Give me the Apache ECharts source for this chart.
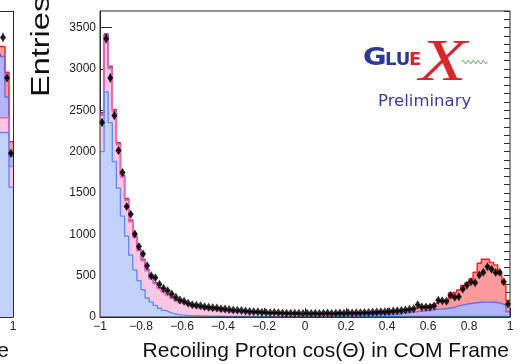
<!DOCTYPE html>
<html>
<head>
<meta charset="utf-8">
<script src="https://cdn.jsdelivr.net/npm/echarts@6/dist/echarts.min.js"></script>
<style>
  html, body { margin: 0; padding: 0; background: #fff; }
  #chart { width: 520px; height: 364px; }
</style>
</head>
<body>
<div id="chart"></div>
<script>
// Binning of the cos(theta) histogram: 100 bins on [-1, 1]
const binLow = -1;
const binWidth = 0.02;

// Measured entries per bin
const dataCounts = [
  2352, 3366, 2890, 2437, 2013, 1747, 1335, 1243, 1005, 851,
  763, 621, 500, 476, 396, 347, 318, 278, 238, 206,
  190, 166, 149, 142, 135, 125, 118, 112, 108, 100,
  96, 90, 86, 82, 78, 72, 68, 64, 62, 58,
  55, 52, 54, 50, 47, 46, 44, 46, 44, 42,
  45, 43, 46, 42, 44, 47, 43, 46, 48, 45,
  50, 47, 52, 50, 55, 53, 58, 60, 64, 62,
  68, 72, 76, 80, 84, 93, 101, 149, 121, 121,
  121, 133, 202, 197, 190, 263, 238, 246, 339, 384,
  427, 415, 508, 541, 609, 577, 537, 541, 427, 157
];

// Simulated components, bottom of the stack first
const lightBlue = [
  2000, 2720, 2350, 1880, 1560, 1220, 980, 750, 570, 440,
  330, 230, 180, 140, 105, 80, 58, 40, 32, 26,
  22, 19, 17, 15, 13, 12, 11, 10, 9, 9,
  8, 8, 7, 7, 7, 6, 6, 6, 6, 5,
  5, 5, 5, 5, 5, 5, 4, 4, 4, 4,
  4, 4, 4, 4, 4, 4, 4, 4, 4, 4,
  4, 4, 4, 4, 4, 4, 4, 4, 4, 4,
  4, 4, 4, 4, 4, 4, 4, 4, 4, 4,
  4, 5, 5, 5, 5, 5, 5, 5, 5, 5,
  5, 5, 5, 5, 5, 5, 5, 5, 5, 4
];
const pink = [
  440, 670, 650, 600, 520, 470, 430, 400, 390, 360,
  350, 330, 280, 260, 235, 215, 202, 185, 163, 144,
  128, 116, 103, 95, 87, 80, 74, 70, 66, 61,
  57, 53, 51, 48, 45, 43, 41, 39, 37, 36,
  35, 34, 33, 32, 31, 30, 29, 28, 27, 26,
  25, 24, 23, 22, 21, 20, 19, 18, 17, 16,
  15, 14, 13, 12, 12, 11, 10, 10, 9, 9,
  8, 8, 7, 7, 7, 6, 6, 6, 6, 5,
  5, 5, 5, 5, 5, 5, 5, 5, 5, 5,
  5, 5, 5, 5, 5, 5, 5, 5, 5, 4
];
const lavender = [
  15, 18, 18, 16, 15, 14, 12, 12, 10, 10,
  9, 8, 8, 7, 7, 6, 6, 6, 5, 5,
  5, 5, 5, 4, 4, 4, 4, 4, 4, 4,
  4, 4, 4, 4, 4, 4, 4, 4, 4, 4,
  4, 5, 5, 5, 5, 5, 5, 5, 5, 5,
  6, 6, 6, 6, 7, 7, 7, 8, 8, 8,
  9, 10, 10, 11, 12, 13, 14, 15, 16, 18,
  20, 22, 24, 37, 41, 48, 52, 58, 62, 69,
  76, 80, 85, 90, 95, 102, 115, 130, 140, 150,
  156, 162, 168, 170, 170, 168, 165, 153, 135, 56
];
const red = [
  15, 15, 15, 14, 13, 12, 12, 10, 10, 9,
  9, 8, 8, 7, 7, 6, 6, 6, 5, 5,
  5, 5, 5, 4, 4, 4, 4, 4, 4, 4,
  4, 4, 4, 4, 4, 4, 5, 5, 5, 5,
  5, 5, 5, 5, 5, 6, 6, 6, 6, 6,
  6, 6, 6, 7, 7, 7, 8, 8, 8, 9,
  9, 10, 11, 12, 13, 14, 15, 16, 18, 20,
  22, 24, 26, 37, 38, 40, 43, 47, 53, 57,
  65, 75, 90, 90, 100, 178, 175, 187, 230, 255,
  294, 369, 472, 518, 518, 482, 455, 357, 255, 136
];

// Neighbouring panel (only its last bins are in view)
const sideBinLow = 0.92;
const sideData = [3170, 3380, 2890, 1980];
const sideLightBlue = [2230, 2230, 2230, 1570];
const sidePink = [180, 180, 180, 250];
const sideLavender = [740, 740, 250, 120];
const sideRed = [120, 120, 300, 180];

// Axis ticks
const yMax = 3700;
const yMajor = 500;
const yMinor = 100;
const xTickStep = 0.2;

const xTitle = 'Recoiling Proton cos(\u0398) in COM Frame';
const yTitle = 'Entries';

const COLORS = {
  lightBlue: { fill: '#c3d2fa', line: '#5d8ff6' },
  pink:      { fill: '#fcc7e2', line: '#f06ab2' },
  lavender:  { fill: '#b4b4fa', line: '#6b6bf2' },
  red:       { fill: '#fb9b9d', line: '#f21d26' }
};
const FONT = '"Liberation Sans", Arial, Helvetica, sans-serif';

function cumulate(layers) {
  const out = [];
  let run = layers[0].map(() => 0);
  layers.forEach(l => {
    run = run.map((v, i) => v + l[i]);
    out.push(run.slice());
  });
  return out;
}

function stepPoints(values, low, width) {
  const pts = values.map((v, i) => [low + i * width, v]);
  pts.push([low + values.length * width, values[values.length - 1]]);
  return pts;
}

function histSeries(values, low, color, axis) {
  return {
    type: 'line', step: 'end', xAxisIndex: axis, yAxisIndex: axis === 0 ? 0 : 2,
    data: stepPoints(values, low, binWidth), symbol: 'none', clip: true,
    lineStyle: { color: color.line, width: 1.4 },
    areaStyle: { color: color.fill, opacity: 1 },
    silent: true, z: 2
  };
}

function pointSeries(values, low, axis, barColor, dashed) {
  const pts = values.map((v, i) => [low + (i + 0.5) * binWidth, v]);
  return [
    {
      type: 'custom', xAxisIndex: axis, yAxisIndex: axis === 0 ? 0 : 2, z: 4,
      data: pts, clip: true,
      renderItem: (params, api) => {
        const x = api.value(0), y = api.value(1), e = Math.sqrt(y);
        const t = api.coord([x, y + e]), b = api.coord([x, y - e]);
        const l = api.coord([x - binWidth / 2, y]), r = api.coord([x + binWidth / 2, y]);
        const st = { stroke: barColor, lineWidth: 1 };
        if (dashed) st.lineDash = [2, 1];
        return { type: 'group', children: [
          { type: 'line', shape: { x1: t[0], y1: t[1], x2: b[0], y2: b[1] }, style: st },
          { type: 'line', shape: { x1: l[0], y1: l[1], x2: r[0], y2: r[1] }, style: { stroke: '#000', lineWidth: 1 } }
        ] };
      }
    },
    {
      type: 'scatter', xAxisIndex: axis, yAxisIndex: axis === 0 ? 0 : 2, z: 5,
      data: pts, symbol: 'diamond', symbolSize: [6, 9], clip: true,
      itemStyle: { color: '#000' }, silent: true
    }
  ];
}

const mainCum = cumulate([lightBlue, pink, lavender, red]);
const sideCum = cumulate([sideLightBlue, sidePink, sideLavender, sideRed]);
const order = [[3, COLORS.red], [2, COLORS.lavender], [1, COLORS.pink], [0, COLORS.lightBlue]];

const series = [];
order.forEach(([k, c]) => series.push(histSeries(sideCum[k], sideBinLow, c, 1)));
series.push(...pointSeries(sideData, sideBinLow, 1, '#2a45c8', true));
order.forEach(([k, c]) => series.push(histSeries(mainCum[k], binLow, c, 0)));
series.push(...pointSeries(dataCounts, binLow, 0, '#000', false));

function fmtX(v) {
  const r = Math.round(v * 10) / 10;
  if (r === 0) return '0';
  return (r < 0 ? '\u2212' : '') + String(Math.abs(r));
}

// Small wavy line of the logo
const wave = [];
for (let k = 0; k <= 20; k++) wave.push([462 + k * 1.25, 62 + (k % 2 === 0 ? 0 : (k % 4 === 1 ? -1.6 : 1.6))]);

const axisColor = '#2a2a2a';
const labelStyle = { fontFamily: FONT, fontSize: 12, color: '#222' };
const sideMin = 0.935;

const chart = echarts.init(document.getElementById('chart'), null, { renderer: 'canvas' });
chart.setOption({
  animation: false,
  backgroundColor: '#fff',
  grid: [
    { left: 100, right: 10, top: 11, bottom: 47, show: true, borderColor: axisColor, borderWidth: 1, backgroundColor: 'transparent', z: 10 },
    { left: 0, width: 13, top: 11, bottom: 47, show: false }
  ],
  xAxis: [
    {
      gridIndex: 0, type: 'value', min: -1, max: 1, interval: xTickStep,
      axisLine: { show: true, onZero: false, lineStyle: { color: axisColor, width: 1 } },
      axisTick: { inside: true, length: 9, lineStyle: { color: axisColor } },
      minorTick: { show: true, splitNumber: 5, length: 5, lineStyle: { color: axisColor } },
      splitLine: { show: false },
      axisLabel: Object.assign({ margin: 4, formatter: fmtX, showMinLabel: true, showMaxLabel: true }, labelStyle)
    },
    {
      gridIndex: 1, type: 'value', min: sideMin, max: 1, position: 'bottom',
      axisLine: { show: true, onZero: false, lineStyle: { color: axisColor } },
      axisTick: { show: false },
      splitLine: { show: false },
      axisLabel: Object.assign({ margin: 4, customValues: [1], formatter: v => String(Math.round(v)) }, labelStyle)
    },
    {
      gridIndex: 1, type: 'value', min: sideMin, max: 1, position: 'top',
      axisLine: { show: true, onZero: false, lineStyle: { color: axisColor } },
      axisTick: { show: false }, axisLabel: { show: false }, splitLine: { show: false }
    }
  ],
  yAxis: [
    {
      gridIndex: 0, type: 'value', min: 0, max: yMax, interval: yMajor,
      axisLine: { show: true, onZero: false, lineStyle: { color: axisColor, width: 1 } },
      axisTick: { inside: true, length: 12, lineStyle: { color: axisColor } },
      splitLine: { show: false },
      axisLabel: Object.assign({ margin: 4, showMaxLabel: false, formatter: v => String(v) }, labelStyle)
    },
    {
      gridIndex: 0, type: 'value', min: 0, max: yMax, interval: yMinor,
      axisLine: { show: false, onZero: false },
      axisTick: { inside: true, length: 6, lineStyle: { color: axisColor } },
      splitLine: { show: false },
      axisLabel: { show: false }
    },
    {
      gridIndex: 1, type: 'value', min: 0, max: yMax, position: 'right',
      axisLine: { show: true, onZero: false, lineStyle: { color: axisColor } },
      axisTick: { show: false }, axisLabel: { show: false }, splitLine: { show: false }
    }
  ],
  series: series,
  graphic: [
    { type: 'text', x: 509, y: 351, style: { text: xTitle, font: '21px ' + FONT, fill: '#111', textAlign: 'right', textVerticalAlign: 'middle' } },
    { type: 'text', x: 9, y: 351, style: { text: xTitle, font: '21px ' + FONT, fill: '#111', textAlign: 'right', textVerticalAlign: 'middle' } },
    { type: 'text', x: 42.5, y: 97, rotation: Math.PI / 2, scaleX: 1.3, style: { text: yTitle, font: '25px ' + FONT, fill: '#111', textAlign: 'left', textVerticalAlign: 'middle' } },
    { type: 'text', x: 363, y: 59, scaleX: 1.2, style: { text: 'G', font: 'bold 24px "DejaVu Sans"', fill: '#2b3990', textAlign: 'left', textVerticalAlign: 'middle' } },
    { type: 'text', x: 385, y: 60, style: { text: 'LU', font: 'bold 18px "DejaVu Sans"', fill: '#2b3990', textAlign: 'left', textVerticalAlign: 'middle' } },
    { type: 'text', x: 409, y: 60, style: { text: 'E', font: 'bold 18px "DejaVu Sans"', fill: '#d7262e', textAlign: 'left', textVerticalAlign: 'middle' } },
    { type: 'text', x: 443, y: 64, scaleX: 1.3, style: { text: 'X', font: 'italic 60px "Liberation Serif"', fill: '#d7262e', textAlign: 'center', textVerticalAlign: 'middle' } },
    { type: 'polyline', shape: { points: wave, smooth: 0.5 }, style: { stroke: '#3e9b3e', fill: null, lineWidth: 1 } },
    { type: 'text', x: 378, y: 101.5, style: { text: 'Preliminary', font: '16.5px "DejaVu Sans"', fill: '#3a3d98', textAlign: 'left', textVerticalAlign: 'middle' } }
  ]
});
</script>
</body>
</html>
